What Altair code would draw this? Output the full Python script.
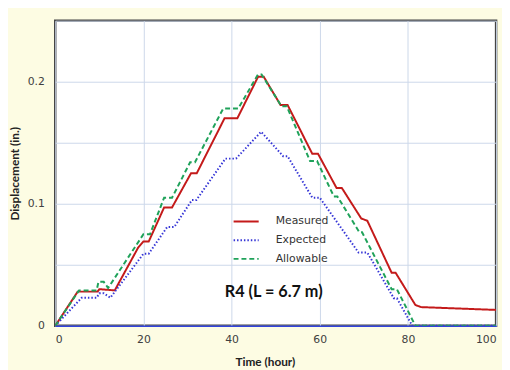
import altair as alt
import pandas as pd

# ---- data ----
series_names = ["Measured", "Expected", "Allowable"]
series_colors = ["#C41A1A", "#3535D6", "#1FA25A"]

measured_t = [0, 5.1, 9.6, 10.0, 13.5, 18.8, 20.0, 21.2, 24.7, 26.5, 30.8, 32.1, 38.4, 41.3,
              46.0, 47.3, 51.1, 52.7, 58.3, 59.6, 63.8, 65.0, 69.4, 70.8, 76.3, 77.2, 81.7, 83.0, 100]
measured_d = [0, 0.028, 0.028, 0.030, 0.029, 0.064, 0.069, 0.069, 0.097, 0.097, 0.125, 0.125, 0.170, 0.170,
              0.204, 0.204, 0.181, 0.181, 0.141, 0.141, 0.113, 0.113, 0.088, 0.086, 0.0435, 0.0435, 0.017, 0.0153, 0.013]

expected_t = [0, 6.0, 9.4, 10.0, 11.0, 12.5, 20.0, 21.2, 25.4, 27.0, 31.0, 32.0, 38.6, 41.0,
              46.7, 51.7, 52.7, 58.3, 60.0, 68.8, 70.8, 76.8, 77.5, 81.0, 100]
expected_d = [0, 0.023, 0.023, 0.0266, 0.0266, 0.023, 0.059, 0.059, 0.081, 0.081, 0.103, 0.103, 0.137, 0.137,
              0.159, 0.139, 0.139, 0.105, 0.105, 0.060, 0.060, 0.0226, 0.0226, 0, 0]

allowable_t = [0, 5.4, 9.4, 9.8, 11.0, 12.0, 20.0, 21.5, 24.7, 26.5, 30.6, 31.7, 38.1, 41.5,
               46.0, 46.8, 51.3, 52.5, 57.8, 59.4, 63.2, 64.0, 69.0, 69.6, 76.3, 77.5, 81.7, 100]
allowable_d = [0, 0.029, 0.029, 0.036, 0.036, 0.031, 0.075, 0.075, 0.105, 0.105, 0.134, 0.134, 0.178, 0.178,
               0.206, 0.206, 0.180, 0.180, 0.135, 0.135, 0.106, 0.106, 0.0766, 0.0766, 0.030, 0.030, 0, 0]

x_ticks = [0, 20, 40, 60, 80, 100]
y_ticks = [0, 0.05, 0.1, 0.15, 0.2, 0.25]
y_labels = ["0", "0.1", "0.2"]
annotation = "R4 (L = 6.7 m)"

rows = []
for name, ts, ds in [("Measured", measured_t, measured_d),
                     ("Expected", expected_t, expected_d),
                     ("Allowable", allowable_t, allowable_d)]:
    for i, (t, d) in enumerate(zip(ts, ds)):
        rows.append({"series": name, "t": t, "d": d, "i": i})
df = pd.DataFrame(rows)

label_font = "DejaVu Sans"
title_font = "Lato"

y_label_expr = "(" + " || ".join("datum.label == '%s'" % s for s in y_labels) + ") ? datum.label : ''"

legend = alt.Legend(title=None, orient="none", legendX=180, legendY=190,
                    symbolType="stroke", symbolSize=650, symbolStrokeWidth=2,
                    labelFont=label_font, labelFontSize=11, labelColor="#333333",
                    labelOffset=16, rowPadding=0)

lines = alt.Chart(df).mark_line(strokeWidth=2, clip=True).encode(
    x=alt.X("t:Q", scale=alt.Scale(domain=[0, 100], nice=False),
            axis=alt.Axis(values=x_ticks, title="Time (hour)", grid=True,
                          gridColor="#CCD7EA", gridWidth=1,
                          domainColor="#3344DD", domainWidth=1.5,
                          ticks=False, tickSize=0, labelPadding=8,
                          labelFont=label_font, labelFontSize=11, labelColor="#404040",
                          titleFont=title_font, titleFontSize=12, titleFontWeight="bold",
                          titleColor="#222222", titlePadding=12, titleX=213)),
    y=alt.Y("d:Q", scale=alt.Scale(domain=[0, 0.25], nice=False),
            axis=alt.Axis(values=y_ticks, format=".2~f",
                          labelExpr=y_label_expr,
                          title="Displacement (in.)", grid=True,
                          gridColor="#CCD7EA", gridWidth=1, domain=False,
                          ticks=False, tickSize=0, labelPadding=11,
                          labelFont=label_font, labelFontSize=11, labelColor="#404040",
                          titleFont=title_font, titleFontSize=12, titleFontWeight="bold",
                          titleColor="#222222", titlePadding=6)),
    color=alt.Color("series:N", scale=alt.Scale(domain=series_names, range=series_colors), legend=legend),
    strokeDash=alt.StrokeDash("series:N",
                              scale=alt.Scale(domain=series_names, range=[[1, 0], [1.5, 2], [5, 3]]),
                              legend=legend),
    order="i:Q",
)

text = alt.Chart(pd.DataFrame({"label": [annotation]})).mark_text(
    font=title_font, fontSize=16.5, fontWeight="bold", color="#111111", align="center", baseline="middle"
).encode(text="label:N", x=alt.value(222), y=alt.value(276))

chart = alt.layer(lines, text).properties(
    width=448, height=310,
    autosize=alt.AutoSizeParams(type="none"),
    padding={"left": 48, "top": 10, "right": 6, "bottom": 42},
    background="#FDFCE3",
).configure_view(stroke="#444444", strokeWidth=2.5, fill="white")

chart.save("out.html", embed_options={"renderer": "svg", "actions": False})
